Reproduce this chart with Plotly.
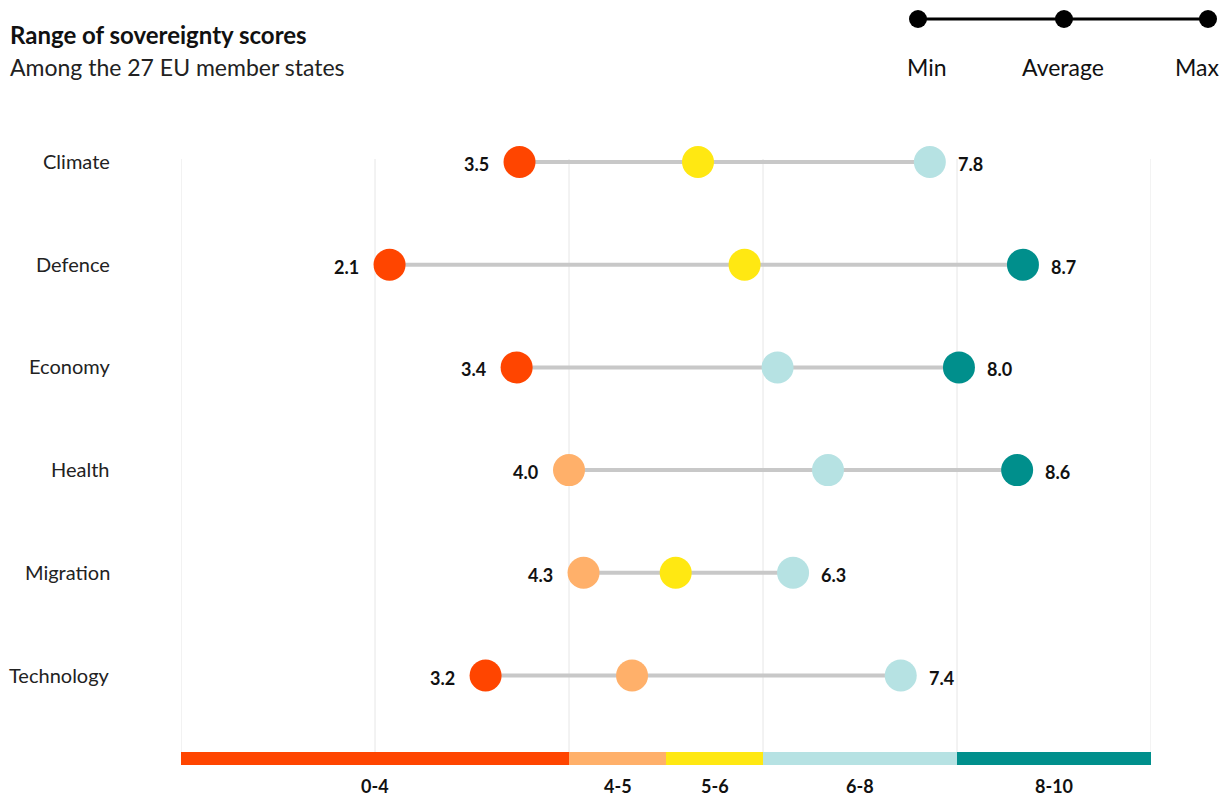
import plotly.graph_objects as go

# ---------------- data ----------------
categories = ["Climate", "Defence", "Economy", "Health", "Migration", "Technology"]
min_scores = [3.49, 2.15, 3.46, 4.00, 4.15, 3.14]
avg_scores = [5.33, 5.81, 6.15, 6.67, 5.10, 4.65]
max_scores = [7.72, 8.68, 8.02, 8.62, 6.31, 7.42]
min_labels = ["3.5", "2.1", "3.4", "4.0", "4.3", "3.2"]
max_labels = ["7.8", "8.7", "8.0", "8.6", "6.3", "7.4"]

bin_edges = [0, 4, 5, 6, 8, 10]
bin_labels = ["0-4", "4-5", "5-6", "6-8", "8-10"]
bin_colors = ["#FF4500", "#FFB06A", "#FFE812", "#B6E2E3", "#008F8C"]
grid_ticks = [0, 2, 4, 6, 8, 10]

W, H = 1228, 796
FONT = "Lato"


def color_for(v):
    for i in range(len(bin_colors)):
        if bin_edges[i] <= v < bin_edges[i + 1]:
            return bin_colors[i]
    return bin_colors[-1]


def px(x):
    return x / W


def py(y):
    return 1 - y / H


rows = list(range(len(categories)))
fig = go.Figure()

# connecting lines
for i in rows:
    fig.add_trace(go.Scatter(
        x=[min_scores[i], max_scores[i]], y=[i, i], mode="lines",
        line=dict(color="#C8C8C8", width=4), hoverinfo="skip", showlegend=False))

# dots
for series in (min_scores, avg_scores, max_scores):
    fig.add_trace(go.Scatter(
        x=series, y=rows, mode="markers",
        marker=dict(size=32, color=[color_for(v) for v in series], line=dict(width=0)),
        showlegend=False, cliponaxis=False))

# row value labels
for i in rows:
    fig.add_annotation(x=min_scores[i], y=i, text=min_labels[i], showarrow=False,
                       xanchor="right", xshift=-29, yshift=-2,
                       font=dict(family=FONT, size=18, color="#111", weight="bold"))
    fig.add_annotation(x=max_scores[i], y=i, text=max_labels[i], showarrow=False,
                       xanchor="left", xshift=26, yshift=-2,
                       font=dict(family=FONT, size=18, color="#111", weight="bold"))
    fig.add_annotation(x=px(112), xref="paper", y=i, text=categories[i], showarrow=False,
                       xanchor="right", yshift=1,
                       font=dict(family=FONT, size=20, color="#222"))

# y mapping: row pixel = 161 + i*102.8
row_px0, row_step = 162, 102.7
y_top = -row_px0 / row_step
y_bot = (H - row_px0) / row_step


def yv(pix):
    return (pix - row_px0) / row_step


shapes = []
for t in grid_ticks:
    shapes.append(dict(type="line", x0=t, x1=t, y0=yv(159), y1=yv(752),
                       xref="x", yref="y", line=dict(color="#E6E6E6", width=1), layer="below"))
for k in range(len(bin_colors)):
    shapes.append(dict(type="rect", x0=bin_edges[k], x1=bin_edges[k + 1], y0=yv(752), y1=yv(765),
                       xref="x", yref="y", fillcolor=bin_colors[k], line=dict(width=0), layer="above"))
    fig.add_annotation(x=(bin_edges[k] + bin_edges[k + 1]) / 2, y=yv(786), text=bin_labels[k],
                       showarrow=False, font=dict(family=FONT, size=18, color="#111", weight="bold"))

# legend at top right
shapes.append(dict(type="line", xref="paper", yref="paper", x0=px(918), x1=px(1208),
                   y0=py(19), y1=py(19), line=dict(color="#000", width=3)))
for cx in (918, 1064, 1208):
    r = 9
    shapes.append(dict(type="circle", xref="paper", yref="paper", x0=px(cx - r), x1=px(cx + r),
                       y0=py(19 + r), y1=py(19 - r), fillcolor="#000", line=dict(width=0)))
lab_pos = [(927, "Min"), (1063, "Average"), (1197, "Max")]
for cx, lab in lab_pos:
    fig.add_annotation(xref="paper", yref="paper", x=px(cx), y=py(67), text=lab, showarrow=False,
                       xanchor="center", yanchor="middle",
                       font=dict(family=FONT, size=23, color="#111"))

# title
fig.add_annotation(xref="paper", yref="paper", x=px(8), y=py(34), text="<b>Range of sovereignty scores</b>",
                   showarrow=False, xanchor="left", yanchor="middle",
                   font=dict(family=FONT, size=24, color="#111"))
fig.add_annotation(xref="paper", yref="paper", x=px(8), y=py(67), text="Among the 27 EU member states",
                   showarrow=False, xanchor="left", yanchor="middle",
                   font=dict(family=FONT, size=23, color="#222"))

fig.update_layout(
    width=W, height=H, margin=dict(l=0, r=0, t=0, b=0),
    plot_bgcolor="white", paper_bgcolor="white", shapes=shapes,
    xaxis=dict(domain=[px(181), px(1151)], range=[0, 10], showgrid=False, zeroline=False,
               showticklabels=False, fixedrange=True),
    yaxis=dict(domain=[0, 1], range=[y_bot, y_top], showgrid=False, zeroline=False,
               showticklabels=False, fixedrange=True),
    font=dict(family=FONT),
)

fig.write_html("out.html")
